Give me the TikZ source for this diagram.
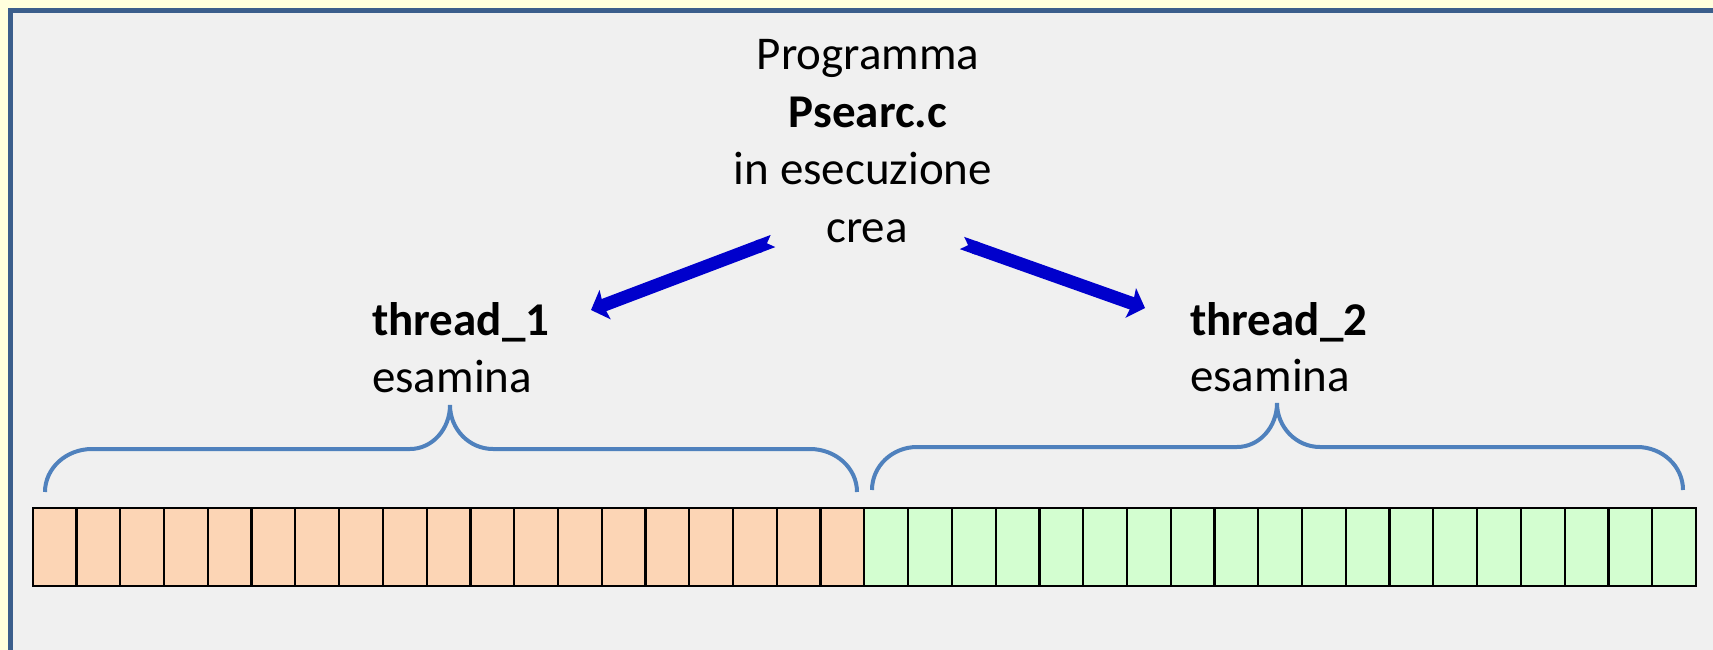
\documentclass[tikz,border=0pt]{standalone}
\usepackage{fontspec}
\setmainfont{Carlito}
\usepackage{xcolor}
\usepackage{tikz}
\usetikzlibrary{arrows.meta}
\definecolor{bgyellow}{RGB}{255,255,221}
\definecolor{framefill}{RGB}{240,240,240}
\definecolor{frameblue}{RGB}{59,94,140}
\definecolor{arrblue}{RGB}{0,0,204}
\definecolor{braceblue}{RGB}{79,129,189}
\definecolor{cellorange}{RGB}{252,213,181}
\definecolor{cellgreen}{RGB}{211,254,208}

\begin{document}
\begin{tikzpicture}[x=1pt,y=-1pt]
\tikzstyle{txt} = [font=\fontsize{47}{57}\selectfont,inner sep=0];
\tikzstyle{btxt} = [font=\fontsize{47}{57}\selectfont\bfseries,inner sep=0];
\tikzstyle{frame} = [fill=framefill,draw=frameblue,line width=5];
\tikzstyle{cellA} = [draw,line width=2.2,fill=cellorange,minimum width=43.77,minimum height=78.3,inner sep=0];
\tikzstyle{cellB} = [draw,line width=2.2,fill=cellgreen,minimum width=43.77,minimum height=78.3,inner sep=0];
\tikzstyle{brace} = [draw=braceblue,line width=4];
\tikzstyle{arr} = [line width=13,draw=arrblue,{Triangle Cap[reversed]}-{Stealth[length=15pt,width=31pt,inset=2pt]}];
\useasboundingbox (0,0) rectangle (1713,650);
\fill[bgyellow] (0,0) rectangle (1713,650);
\draw[frame] (10.5,10.5) rectangle (1740,680);
\node [txt,anchor=base] (p1) at (868,70) {Programma};
\node [btxt,anchor=base] (p2) at (868,128) {Psearc.c};
\node [txt,anchor=base] (p3) at (863,184) {in esecuzione};
\node [txt,anchor=base] (p4) at (867,242) {crea};
\node [btxt,anchor=base west] (t1) at (372,335) {thread\_1};
\node [txt,anchor=base west] (e1) at (372,392) {esamina};
\node [btxt,anchor=base west] (t2) at (1190,335) {thread\_2};
\node [txt,anchor=base west] (e2) at (1190,391) {esamina};
\coordinate (a1) at (773,241);
\coordinate (a2) at (591,310);
\coordinate (b1) at (962,243);
\coordinate (b2) at (1145,308);
\draw [arr] (a1) -- (a2);
\draw [arr] (b1) -- (b2);
\draw [brace] (45,492) arc[start angle=180,end angle=270,x radius=47,y radius=43] -- (410,449)
  arc[start angle=90,end angle=0,x radius=40,y radius=44]
  arc[start angle=180,end angle=90,x radius=43,y radius=44] -- (810,449)
  arc[start angle=270,end angle=360,x radius=47,y radius=43];
\draw [brace] (872,490) arc[start angle=180,end angle=270,x radius=45,y radius=43] -- (1237,447)
  arc[start angle=90,end angle=0,x radius=40,y radius=44]
  arc[start angle=180,end angle=90,x radius=43,y radius=44] -- (1637,447)
  arc[start angle=270,end angle=360,x radius=46,y radius=43];
\foreach \i in {1,...,19}
  \node [cellA] (c\i) at ({32.7+(\i-0.5)*43.77},546.85) {};
\foreach \i in {20,...,38}
  \node [cellB] (c\i) at ({32.7+(\i-0.5)*43.77},546.85) {};
\end{tikzpicture}
\end{document}
